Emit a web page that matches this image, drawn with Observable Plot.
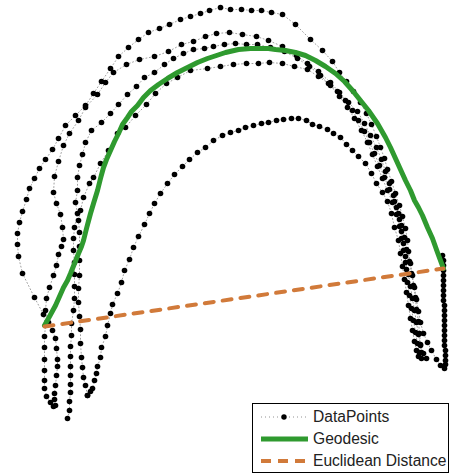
<!DOCTYPE html>
<html><head><meta charset="utf-8">
<script src="https://cdn.jsdelivr.net/npm/d3@7"></script>
<script src="https://cdn.jsdelivr.net/npm/@observablehq/plot@0.6"></script>
<style>
html,body{margin:0;padding:0;background:#fff;}
#wrap{position:relative;width:450px;height:474px;}
#legend{position:absolute;left:252px;top:403px;width:195px;height:68px;border:1px solid #000;background:#fff;font-family:"Liberation Sans",Arial,sans-serif;font-size:15.6px;color:#222;}
.row{position:absolute;left:0;height:20px;display:flex;align-items:center;white-space:nowrap;}
.row svg{display:block;margin-left:8px;margin-right:5px;}
</style>
</head><body>
<div id="wrap"></div>
<script>
// Trajectory strands (x, y; y grows downward)
const strandA = [[442,255],[443,260],[443,265],[443,270],[443,275],[443,280],[443,285],[443,290],[443,295],[443,300],[444,305],[444,310],[444,315],[444,320],[444,325],[444,330],[444,335],[444,340],[444,345],[445,350],[445,355],[445,360],[445,364],[444,368],[440,365],[436,359],[431,350],[427,342],[423,333],[420,322],[418,311],[416,299],[414,287],[412,275],[410,263],[408,251],[407,240],[405,228],[402,216],[399,205],[395,193],[391,181],[387,169],[384,158],[380,147],[376,136],[371,124],[366,113],[360,102],[353,91],[346,81],[339,72],[332,61],[322,50],[310,39],[295,24],[282,14],[271,12],[261,10],[251,10],[241,9],[230,9],[220,7],[209,10],[200,13],[190,16],[180,19],[169,24],[159,28],[148,32],[138,39],[128,47],[118,56],[110,68],[101,81],[93,93],[85,105],[75,115],[65,125],[58,138],[52,149],[45,159],[39,168],[34,178],[29,188],[26,199],[22,211],[19,222],[17,233],[17,244],[18,256],[22,273],[34,297],[43,314],[45,325],[44,336],[44,347],[44,359],[44,370],[44,380],[44,388],[46,396],[50,402],[53,406]];
const strandB = [[55,405],[54,399],[54,393],[55,385],[56,375],[57,366],[57,359],[56,348],[55,338],[52,330],[48,322],[45,310],[46,298],[49,287],[53,275],[56,265],[58,254],[61,246],[63,239],[62,227],[60,214],[56,203],[53,192],[54,176],[58,161],[63,145],[69,133],[78,120],[85,107],[97,94],[105,82],[113,72],[126,64],[139,59],[154,56],[168,51],[181,44],[193,41],[205,36],[216,33],[229,32],[242,34],[256,36],[268,40],[282,46],[296,55],[307,63],[318,71],[330,82],[339,92],[348,102],[357,111],[364,123],[370,135],[376,147],[381,159],[385,171],[389,183],[393,195],[396,207],[399,219],[401,231],[403,243],[405,256],[406,269],[407,282],[409,295],[411,308],[413,320],[415,332],[417,343],[419,352],[421,358]];
const strandC = [[67,418],[69,410],[69,401],[70,392],[70,384],[70,375],[70,366],[70,356],[70,346],[71,335],[71,323],[73,310],[74,298],[74,286],[74,274],[74,262],[73,250],[73,238],[74,227],[77,213],[75,202],[77,190],[77,177],[79,165],[82,154],[85,142],[91,130],[101,122],[110,113],[118,104],[127,94],[136,86],[144,77],[154,72],[164,64],[173,58],[183,53],[193,49],[204,48],[213,46],[224,44],[235,43],[246,44],[257,44],[270,47],[284,51],[297,58],[309,66],[320,75],[330,85],[339,96],[347,107],[354,118],[361,130],[367,142],[372,154],[377,166],[382,178],[387,190],[392,202],[396,214],[399,226],[401,238],[403,250],[405,262],[408,274],[410,286],[412,298],[414,310],[416,322],[418,334],[420,345],[423,353],[426,358]];
const strandD = [[421,352],[420,344],[419,333],[418,321],[416,309],[415,297],[413,285],[411,273],[409,261],[406,249],[404,237],[401,225],[398,213],[394,201],[389,189],[384,177],[379,165],[374,153],[369,142],[364,131],[358,120],[352,110],[345,100],[337,91],[328,83],[318,76],[307,69],[294,66],[282,63],[269,62],[258,63],[246,63],[233,64],[220,66],[207,68],[190,70],[177,77],[166,83],[155,93],[146,104],[135,115],[125,127],[117,133],[108,150],[100,163],[93,177],[89,183],[83,197],[80,210],[78,220],[79,232],[79,246],[79,260],[79,275],[78,288],[78,302],[79,316],[80,329],[80,343],[81,357],[82,367],[83,377],[85,385],[87,395]];
const strandE = [[87,395],[90,391],[92,388],[94,380],[96,373],[97,366],[100,357],[101,347],[105,336],[107,325],[110,313],[112,304],[117,293],[121,282],[124,270],[129,259],[133,247],[138,236],[144,224],[149,213],[154,203],[160,193],[167,183],[174,174],[182,166],[189,159],[197,152],[205,147],[213,140],[222,135],[230,132],[238,130],[245,127],[253,125],[261,123],[268,122],[276,120],[283,119],[291,118],[298,118],[306,120],[312,124],[319,126],[327,129],[333,133],[340,137],[346,144],[352,150],[358,156],[365,163],[371,173],[376,183],[382,192],[387,201],[391,213],[394,227],[398,240],[400,253],[402,266],[404,279],[406,292],[408,305],[410,318],[412,330],[414,341],[416,350],[418,356]];
const geodesic = [[44,325],[49,316],[55,305],[59,296],[63,287],[67,280],[70,273],[74,263],[78,253],[81,246],[83,240],[86,228],[90,213],[93,203],[97,190],[100,178],[103,167],[106,159],[110,150],[114,141],[118,133],[122,124],[127,117],[131,111],[137,105],[143,97],[150,90],[158,84],[167,78],[177,72],[187,67],[197,62],[207,58],[216,55],[225,52],[238,49],[250,48],[258,48],[268,48],[275,49],[285,50],[295,52],[305,55],[315,60],[325,66],[335,73],[344,81],[352,90],[360,100],[368,110],[377,123],[385,137],[390,147],[395,158],[400,169],[405,180],[410,190],[414,200],[418,207],[422,215],[427,227],[432,238],[437,252],[443,268]];
const euclidean = [[44,326],[443,268]];
const legendLabels = ["DataPoints","Geodesic","Euclidean Distance"];

const strands = {A: strandA, B: strandB, C: strandC, D: strandD, E: strandE};
const pts = Object.entries(strands).flatMap(([k, arr]) => arr.map(([x, y]) => ({x, y, s: k})));

const chart = Plot.plot({
  width: 450, height: 474, margin: 0,
  x: {domain: [0, 450], axis: null},
  y: {domain: [0, 474], reverse: true, axis: null},
  marks: [
    Plot.line(pts, {x: "x", y: "y", z: "s", stroke: "#777", strokeWidth: 0.7, strokeDasharray: "1 2.5"}),
    Plot.dot(pts, {x: "x", y: "y", r: 2.8, fill: "#000"}),
    Plot.line(geodesic, {stroke: "#2f9a2f", strokeWidth: 5, strokeLinejoin: "round"}),
    Plot.line(euclidean, {stroke: "#d17a3a", strokeWidth: 4, strokeDasharray: "9 9"})
  ]
});
const wrap = document.getElementById("wrap");
wrap.appendChild(chart);

// legend
const leg = document.createElement("div");
leg.id = "legend";
const samples = [
  `<line x1="0" y1="10" x2="47" y2="10" stroke="#777" stroke-width="0.8" stroke-dasharray="1 3"/><circle cx="23" cy="10" r="2.7" fill="#000"/>`,
  `<line x1="0" y1="10" x2="47" y2="10" stroke="#2f9a2f" stroke-width="5"/>`,
  `<line x1="0" y1="10" x2="47" y2="10" stroke="#d17a3a" stroke-width="4" stroke-dasharray="10 7"/>`
];
const centers = [13, 35, 57];
legendLabels.forEach((lab, i) => {
  const r = document.createElement("div");
  r.className = "row";
  r.style.top = (centers[i] - 10) + "px";
  r.innerHTML = `<svg width="47" height="20">${samples[i]}</svg><span>${lab}</span>`;
  leg.appendChild(r);
});
wrap.appendChild(leg);
</script>
</body></html>
